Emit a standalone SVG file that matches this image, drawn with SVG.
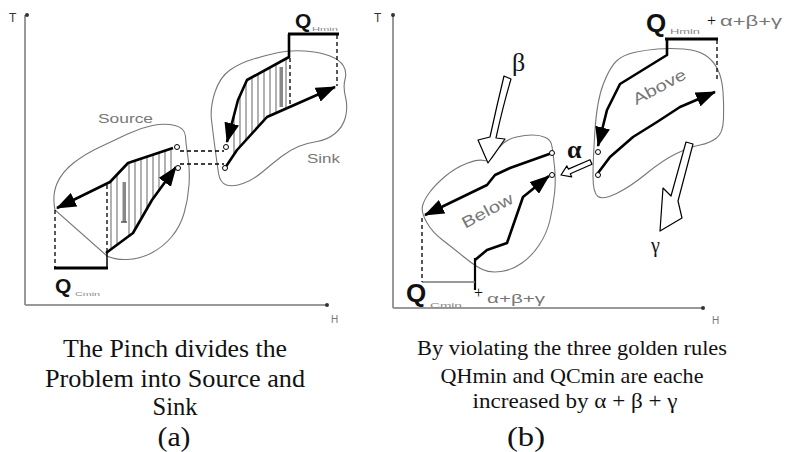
<svg xmlns="http://www.w3.org/2000/svg" width="787" height="452" viewBox="0 0 787 452">
<style>
.axis{stroke:#999;stroke-width:2;fill:none}
.env{stroke:#777;stroke-width:1.1;fill:none}
.stream{stroke:#000;stroke-width:2.6;fill:none;stroke-linejoin:round}
.dash{stroke:#000;stroke-width:1.3;stroke-dasharray:4 3;fill:none}
.thick{stroke:#000;stroke-width:3;fill:none}
.hatch{stroke:#888;stroke-width:1.3}
.pin{fill:#fff;stroke:#000;stroke-width:1}
.hollow{fill:#fff;stroke:#000;stroke-width:1.2;stroke-linejoin:round}
.lbl{font-family:"Liberation Sans",Arial,sans-serif;fill:#777}
.q{font-family:"Liberation Sans",Arial,sans-serif;font-weight:bold;fill:#111}
.sub{font-family:"Liberation Sans",Arial,sans-serif;fill:#888}
.cap{font-family:"Liberation Serif","Times New Roman",serif;fill:#111;text-anchor:middle}
.greek{font-family:"Liberation Serif","Times New Roman",serif;fill:#111}
</style>
<defs>
<marker id="ah" viewBox="0 0 20 15" refX="19" refY="7.5" markerWidth="20" markerHeight="15" markerUnits="userSpaceOnUse" orient="auto">
<path d="M0,0 L20,7.5 L0,15 Z" fill="#000"/>
</marker>
<clipPath id="srcClip"><polygon points="173,148 128,163 110,182 107,185 107,253 133,233 152,200 174,168"/></clipPath>
<clipPath id="sinkClip"><polygon points="289,57 247,80 238,100 227,141 225,168 237,150 267,117 290,106"/></clipPath>
</defs>

<g id="panel-a">
<g id="axes-a">
<line class="axis" x1="25" y1="15" x2="25" y2="305"/>
<line class="axis" x1="25" y1="305" x2="327" y2="305"/>
<circle cx="27" cy="15" r="2" fill="#333"/>
<circle cx="327" cy="305" r="2" fill="#333"/>
<text class="lbl" x="9" y="22" font-size="12" style="fill:#333">T</text>
<text class="lbl" x="331" y="323" font-size="10">H</text>
</g>
<g id="source">
<path class="env" d="M55,210 Q52,195 57,183.5 Q62,172 73.5,163 Q85,154 100,147 Q115,140 127.5,134 Q140,128 152.5,125.5 Q165,123 175,125.5 Q185,128 185.5,136.5 Q186,145 188,157.5 Q190,170 189,185 Q188,200 184,213.5 Q180,227 171.5,237 Q163,247 151.5,253 Q140,259 127.5,259.5 Q115,260 107,256 Z"/>
<g clip-path="url(#srcClip)">
<line class="hatch" x1="111" y1="120" x2="111" y2="270"/>
<line class="hatch" x1="117" y1="120" x2="117" y2="270"/>
<line class="hatch" x1="129" y1="120" x2="129" y2="270"/>
<line class="hatch" x1="135" y1="120" x2="135" y2="270"/>
<line class="hatch" x1="141" y1="120" x2="141" y2="270"/>
<line class="hatch" x1="147" y1="120" x2="147" y2="270"/>
<line class="hatch" x1="153" y1="120" x2="153" y2="270"/>
<line class="hatch" x1="159" y1="120" x2="159" y2="270"/>
<line class="hatch" x1="165" y1="120" x2="165" y2="270"/>
<line class="hatch" x1="171" y1="120" x2="171" y2="270"/>
</g>
<rect x="122.5" y="182" width="3.5" height="40" fill="#888"/>
<line x1="121" y1="222" x2="127" y2="222" stroke="#555" stroke-width="1.5"/>
<path class="stream" d="M173,148 L128,163 L110,182 L57,208" marker-end="url(#ah)"/>
<path class="stream" d="M106,253 L133,233 L152,200 L176,167" marker-end="url(#ah)"/>
<line class="dash" x1="55" y1="210" x2="55" y2="268"/>
<line class="dash" x1="107" y1="185" x2="107" y2="252"/>
<line x1="107" y1="252" x2="107" y2="269" stroke="#000" stroke-width="1.5"/>
<line class="thick" x1="54" y1="268" x2="108" y2="268"/>
<text class="lbl" x="98" y="123" font-size="13" textLength="55" lengthAdjust="spacingAndGlyphs">Source</text>
<text class="q" x="55" y="293" font-size="21">Q</text>
<text class="sub" x="75" y="296" font-size="6" textLength="25" lengthAdjust="spacingAndGlyphs">Cmin</text>
</g>
<g id="sink">
<path class="env" d="M226.5,185 Q220,183 218.5,173 Q217,163 215,148 Q213,133 211.5,120 Q210,107 215,92 Q220,77 230,70 Q240,63 253.5,59 Q267,55 278.5,52.5 Q290,50 305,51 Q320,52 330,56 Q340,60 343.5,66 Q347,72 345,79.5 Q343,87 345.5,97 Q348,107 345.5,117 Q343,127 335,133.5 Q327,140 317,141.5 Q307,143 298.5,146.5 Q290,150 281.5,156.5 Q273,163 263,171.5 Q253,180 243,183.5 Q233,187 226.5,185 Z"/>
<g clip-path="url(#sinkClip)">
<line class="hatch" x1="234" y1="50" x2="234" y2="180"/>
<line class="hatch" x1="240" y1="50" x2="240" y2="180"/>
<line class="hatch" x1="246" y1="50" x2="246" y2="180"/>
<line class="hatch" x1="252" y1="50" x2="252" y2="180"/>
<line class="hatch" x1="258" y1="50" x2="258" y2="180"/>
<line class="hatch" x1="264" y1="50" x2="264" y2="180"/>
<line class="hatch" x1="270" y1="50" x2="270" y2="180"/>
<line class="hatch" x1="276" y1="50" x2="276" y2="180"/>
<line class="hatch" x1="286" y1="50" x2="286" y2="180"/>
</g>
<rect x="279.5" y="67" width="3.5" height="40" fill="#888"/>
<path class="stream" d="M289,34 L289,57 L247,80 L238,100 L227,142" marker-end="url(#ah)"/>
<path class="stream" d="M225,168 L237,150 L267,117 L335,87" marker-end="url(#ah)"/>
<line class="thick" x1="288" y1="34" x2="339" y2="34"/>
<line class="dash" x1="290" y1="58" x2="290" y2="105"/>
<line class="dash" x1="337" y1="35" x2="337" y2="86"/>
<text class="lbl" x="307" y="163" font-size="13" textLength="33" lengthAdjust="spacingAndGlyphs">Sink</text>
<text class="q" x="295" y="28" font-size="21">Q</text>
<text class="sub" x="312" y="31" font-size="6" textLength="26" lengthAdjust="spacingAndGlyphs">Hmin</text>
</g>
<g id="pinch-a">
<line class="dash" x1="180" y1="151" x2="224" y2="151"/>
<line class="dash" x1="180" y1="164" x2="224" y2="164"/>
<circle class="pin" cx="177" cy="147" r="2.5"/>
<circle class="pin" cx="178" cy="168" r="2.5"/>
<circle class="pin" cx="226" cy="147" r="2.5"/>
<circle class="pin" cx="225" cy="168" r="2.5"/>
</g>
<g id="caption-a">
<text class="cap" x="175" y="357" font-size="26" textLength="224" lengthAdjust="spacingAndGlyphs">The Pinch divides the</text>
<text class="cap" x="175" y="387" font-size="26" textLength="260" lengthAdjust="spacingAndGlyphs">Problem into Source and</text>
<text class="cap" x="175" y="415" font-size="26" textLength="45" lengthAdjust="spacingAndGlyphs">Sink</text>
<text class="cap" x="174" y="446" font-size="27" textLength="33" lengthAdjust="spacingAndGlyphs">(a)</text>
</g>
</g>

<g id="panel-b">
<g id="axes-b">
<line class="axis" x1="393" y1="15" x2="393" y2="308"/>
<line class="axis" x1="393" y1="308" x2="703" y2="308"/>
<circle cx="393" cy="15" r="2" fill="#333"/>
<circle cx="703" cy="308" r="2" fill="#333"/>
<text class="lbl" x="374" y="22" font-size="12" style="fill:#333">T</text>
<text class="lbl" x="712" y="324" font-size="10">H</text>
</g>
<g id="below">
<path class="env" d="M422.5,206 Q421,212 426.5,222 Q432,232 442.5,240 Q453,248 464,257 Q475,266 482.5,269.5 Q490,273 501,271.5 Q512,270 522,263 Q532,256 539.5,244.5 Q547,233 550,220 Q553,207 554.5,193.5 Q556,180 554.5,166.5 Q553,153 552,146.5 Q551,140 545.5,137.5 Q540,135 532.5,135 Q525,135 516.5,137 Q508,139 503,143.5 Q498,148 494,155 Q490,162 484,160.5 Q478,159 466.5,163.5 Q455,168 445,176.5 Q435,185 429.5,192.5 Q424,200 422.5,206 Z"/>
<path class="stream" d="M552,153 L510,168 L495,175 L487,185 L425,215" marker-end="url(#ah)"/>
<path class="stream" d="M475,260 L487,250 L507,243 L515,220 L523,197 L549,176" marker-end="url(#ah)"/>
<line x1="475" y1="258" x2="475" y2="290" stroke="#000" stroke-width="2.2"/>
<line x1="422" y1="282" x2="475" y2="282" stroke="#777" stroke-width="1.6"/>
<line class="dash" x1="422" y1="218" x2="422" y2="282"/>
<text class="lbl" x="488" y="216" font-size="16" textLength="56" lengthAdjust="spacingAndGlyphs" text-anchor="middle" transform="rotate(-28 488 212)">Below</text>
<text class="q" x="406" y="302" font-size="26">Q</text>
<text class="sub" x="430" y="308" font-size="8" textLength="32" lengthAdjust="spacingAndGlyphs">Cmin</text>
<text class="greek" x="474" y="298" font-size="16">+</text>
<text class="lbl" x="487" y="303" font-size="13" textLength="58" lengthAdjust="spacingAndGlyphs">α+β+γ</text>
</g>
<g id="above">
<path class="env" d="M603.5,83.5 Q610,67 616.5,61 Q623,55 634,52.5 Q645,50 657.5,49 Q670,48 683.5,49 Q697,50 705,55 Q713,60 717.5,69 Q722,78 723,91.5 Q724,105 723.5,119 Q723,133 716.5,138 Q710,143 700,145 Q690,147 676.5,153.5 Q663,160 646.5,173.5 Q630,187 616.5,193.5 Q603,200 598,196.5 Q593,193 593,176.5 Q593,160 595,130 Q597,100 603.5,83.5 Z"/>
<path class="stream" d="M667,39 L667,55 L620,84 L607,110 L598,146" marker-end="url(#ah)"/>
<path class="stream" d="M598,173 L610,157 L633,137 L657,122 L680,107 L715,92" marker-end="url(#ah)"/>
<line class="thick" x1="665" y1="39" x2="718" y2="39"/>
<line class="dash" x1="717" y1="40" x2="717" y2="82"/>
<text class="lbl" x="660" y="92" font-size="16" textLength="58" lengthAdjust="spacingAndGlyphs" text-anchor="middle" transform="rotate(-28 660 88)">Above</text>
<text class="q" x="646" y="32" font-size="26">Q</text>
<text class="sub" x="670" y="34" font-size="8" textLength="30" lengthAdjust="spacingAndGlyphs">Hmin</text>
<text class="greek" x="707" y="26" font-size="16">+</text>
<text class="lbl" x="720" y="26" font-size="14" textLength="62" lengthAdjust="spacingAndGlyphs">α+β+γ</text>
</g>
<g id="pinch-b">
<circle class="pin" cx="552" cy="153" r="2.5"/>
<circle class="pin" cx="552" cy="175" r="2.5"/>
<circle class="pin" cx="598" cy="152" r="2.5"/>
<circle class="pin" cx="598" cy="175" r="2.5"/>
</g>
<g id="beta">
<path class="hollow" d="M504,76 Q497,105 490,137 L478,140 L488,163 L505,139 L496,138 Q503,106 511,79 Z"/>
<text class="greek" x="512" y="71" font-size="26">β</text>
</g>
<g id="alpha">
<polygon class="hollow" points="590,159.7 568.3,169.1 566.9,165.9 561,175 571.7,176.9 570.3,173.7 592,164.3"/>
<text class="greek" x="567" y="158" font-size="26" font-weight="bold">α</text>
</g>
<g id="gamma">
<polygon class="hollow" points="686,142 693,144 678,201 682,218 660,231 663,188 671,196"/>
<text class="greek" x="651" y="252" font-size="20">γ</text>
</g>
<g id="caption-b">
<text class="cap" x="572" y="355" font-size="22" textLength="310" lengthAdjust="spacingAndGlyphs">By violating the three golden rules</text>
<text class="cap" x="572" y="383" font-size="22" textLength="263" lengthAdjust="spacingAndGlyphs">QHmin and QCmin are eache</text>
<text class="cap" x="575" y="408" font-size="22" textLength="205" lengthAdjust="spacingAndGlyphs">increased by α + β + γ</text>
<text class="cap" x="526" y="446" font-size="27" textLength="38" lengthAdjust="spacingAndGlyphs">(b)</text>
</g>
</g>
</svg>
